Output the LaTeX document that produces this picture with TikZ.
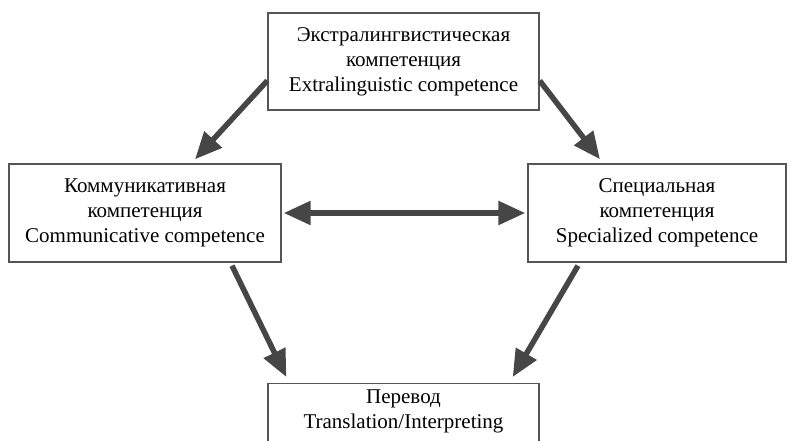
\documentclass[tikz,border=0pt]{standalone}
\usepackage{fontspec}
\setmainfont{Liberation Serif}
\usetikzlibrary{arrows.meta,calc}
\definecolor{arrowgray}{HTML}{464646}
\definecolor{boxgray}{HTML}{555555}
\begin{document}
\begin{tikzpicture}[x=1pt,y=-1pt,
  box/.style={draw=boxgray,line width=1.4pt,align=center,inner sep=0pt,
    font=\fontsize{21}{25}\selectfont},
  label/.style={align=center,inner sep=0pt,font=\fontsize{21}{25}\selectfont},
  arr/.style={draw=arrowgray,line width=5.5pt,-{Triangle[length=27pt,width=23pt]}},
  darr/.style={draw=arrowgray,line width=5.5pt,
    {Triangle[length=27pt,width=23pt]}-{Triangle[length=27pt,width=23pt]}}]
\useasboundingbox (0,0) rectangle (793,441);
\node[box,minimum width=271pt,minimum height=97pt] (ext) at (403.5,61.5)
  {Экстралингвистическая\\компетенция\\Extralinguistic competence};
\node[box,minimum width=272pt,minimum height=98pt] (comm) at (145,213)
  {Коммуникативная\\компетенция\\Communicative competence};
\node[box,minimum width=258pt,minimum height=98pt] (spec) at (657,213)
  {Специальная\\компетенция\\Specialized competence};
\node[box,minimum width=271pt,minimum height=100pt,anchor=north] (tr) at (403.5,383) {};
\node[label,anchor=north] (trtext) at ($(tr.north)+(0,7)$) {Перевод\\Translation/Interpreting};
\draw[arr] ($(ext.south west)+(0,-30)$) -- ($(comm.north)+(50,-4)$);
\draw[arr] ($(ext.south east)+(0,-30)$) -- ($(spec.north)+(-57,-4)$);
\draw[darr] ($(comm.east)+(2,0)$) -- ($(spec.west)+(-2,0)$);
\draw[arr] ($(comm.south)+(87,3)$) -- ($(tr.north west)+(19,-6)$);
\draw[arr] ($(spec.south)+(-79,3)$) -- ($(tr.north east)+(-27,-6)$);
\end{tikzpicture}
\end{document}
